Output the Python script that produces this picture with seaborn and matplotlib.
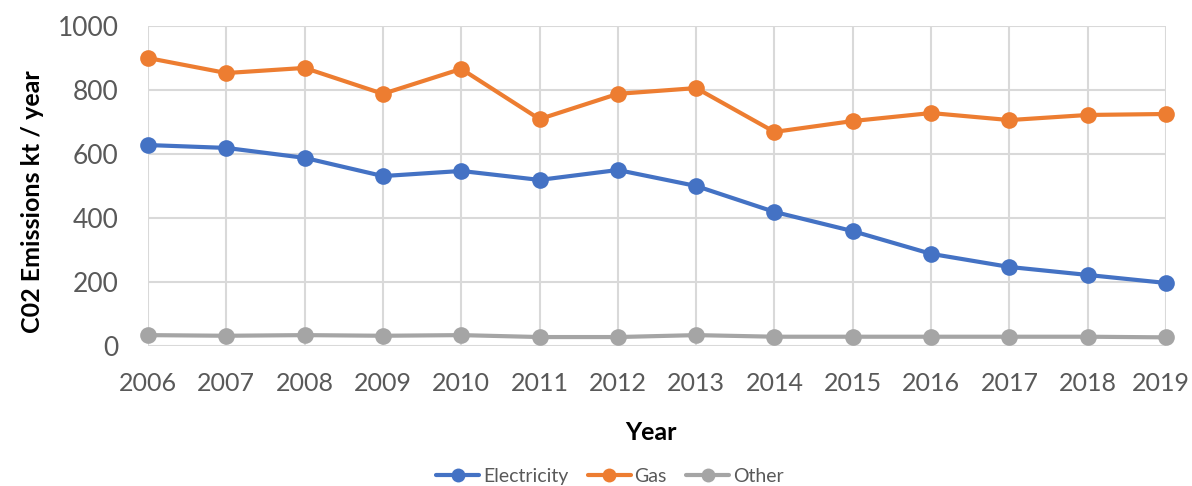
import matplotlib
matplotlib.use("Agg")
import matplotlib.pyplot as plt
import matplotlib.transforms as mtransforms
import seaborn as sns
import pandas as pd
from matplotlib.lines import Line2D

years = [2006, 2007, 2008, 2009, 2010, 2011, 2012, 2013, 2014, 2015, 2016, 2017, 2018, 2019]
electricity = [628, 619, 588, 531, 547, 519, 550, 500, 419, 359, 288, 247, 222, 197]
gas = [900, 853, 869, 788, 866, 709, 788, 806, 669, 703, 728, 706, 722, 725]
other = [34, 32, 34, 32, 34, 28, 28, 34, 29, 29, 29, 29, 29, 27]
series_names = ["Electricity", "Gas", "Other"]
colors = ["#4472C4", "#ED7D31", "#A5A5A5"]
y_ticks = [0, 200, 400, 600, 800, 1000]

df = pd.DataFrame({
    "Year": years * 3,
    "Value": electricity + gas + other,
    "Series": [series_names[0]] * len(years) + [series_names[1]] * len(years) + [series_names[2]] * len(years),
})

sns.set_theme(style="white")
plt.rcParams["font.family"] = ["Lato", "DejaVu Sans"]

fig = plt.figure(figsize=(11.92, 4.86), dpi=100)
ax = fig.add_axes([148 / 1192, 140 / 486, 1018 / 1192, 320 / 486])

sns.lineplot(data=df, x="Year", y="Value", hue="Series", palette=colors,
             marker="o", markersize=12, markeredgewidth=0, linewidth=3,
             ax=ax, legend=False, clip_on=False, zorder=3)

ax.set_xlim(years[0], years[-1])
ax.set_ylim(0, 1000)
ax.set_xticks(years)
ax.set_xticklabels([str(y) for y in years])
ax.set_yticks(y_ticks)
ax.set_yticklabels([str(v) for v in y_ticks])
ax.grid(True, color="#D9D9D9", linewidth=1.5)
ax.set_axisbelow(True)
for s in ax.spines.values():
    s.set_visible(False)
ax.tick_params(axis="both", length=0, colors="#595959")
ax.tick_params(axis="x", pad=19, labelsize=18)
ax.tick_params(axis="y", pad=21, labelsize=19)
# nudge the last x tick label slightly inward so it stays within the canvas
last = ax.get_xticklabels()[-1]
last.set_transform(last.get_transform() + mtransforms.ScaledTranslation(-5 / 100, 0, fig.dpi_scale_trans))

ax.set_xlabel("Year", fontsize=18, fontweight="bold", color="black")
ax.set_ylabel("C02 Emissions kt / year", fontsize=18, fontweight="bold", color="black")
ax.xaxis.set_label_coords((651 - 148) / 1018, (346 - 432) / 320)
ax.xaxis.label.set_va("center")
ax.yaxis.set_label_coords((33 - 148) / 1018, (346 - 202) / 320)
ax.yaxis.label.set_va("center")

handles = [Line2D([0], [0], color=c, lw=3, marker="o", markersize=10, markeredgewidth=0) for c in colors]
fig.legend(handles, series_names, loc="center", bbox_to_anchor=(610 / 1192, 1 - 476 / 486),
           ncol=3, frameon=False, fontsize=14, labelcolor="#595959",
           handlelength=2.2, handletextpad=0.2, columnspacing=1.0)

fig.savefig("out.png", dpi=100)
